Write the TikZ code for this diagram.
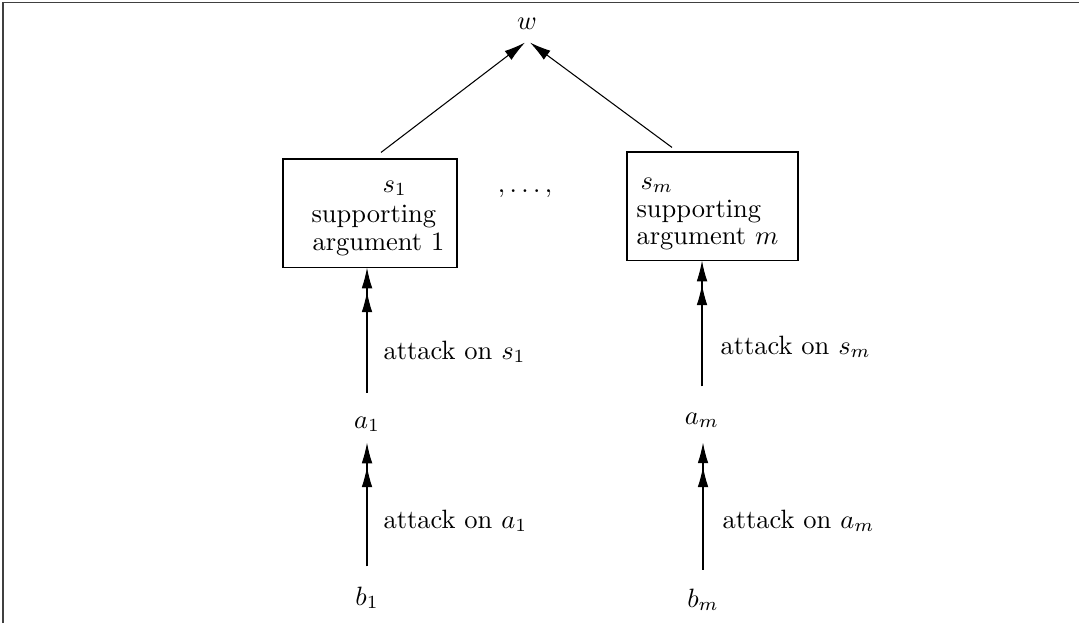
\documentclass[tikz,border=0pt]{standalone}
\usetikzlibrary{arrows.meta,calc}
\begin{document}
\begin{tikzpicture}[x=0.3775pt,y=-0.3775pt,
  txt/.style={inner sep=0pt},
  argbox/.style={draw,inner sep=0pt,minimum height=40.8pt},
  sgl/.style={-{Latex[length=8pt,width=4.2pt]}},
  dbl/.style={-{Latex[length=7.8pt,width=4pt,sep=1.2pt] Latex[length=7.8pt,width=4pt]}}]
\useasboundingbox (0,0) rectangle (1079,623);
\draw[line width=0.7pt,black!75] (3,623) -- (3,2.5) -- (1079,2.5);
% top node
\node[txt,anchor=base] (w) at (527,29) {$w$};
% boxes
\node[argbox,minimum width=65.7pt] (box1) at (370,213) {};
\node[argbox,minimum width=64.55pt] (boxm) at (712.5,206) {};
\node[txt,anchor=base west] (s1) at (382,192) {$s_1$};
\node[txt,anchor=base west] (sup1) at (311,222) {supporting};
\node[txt,anchor=base west] (arg1) at (312,250) {argument 1};
\node[txt,anchor=base west] (sm) at (640,189) {$s_m$};
\node[txt,anchor=base west] (supm) at (636,217) {supporting};
\node[txt,anchor=base west] (argm) at (636,244) {argument $m$};
\node[txt,anchor=base] (dots) at (525,192) {$,\ldots,$};
% attackers
\node[txt,anchor=base] (a1) at (367,428) {$a_1$};
\node[txt,anchor=base] (am) at (702,424) {$a_m$};
\node[txt,anchor=base] (b1) at (367,605) {$b_1$};
\node[txt,anchor=base] (bm) at (703,607) {$b_m$};
% labels
\node[txt,anchor=base west] (l1) at (383,359) {attack on $s_1$};
\node[txt,anchor=base west] (lm) at (720,354) {attack on $s_m$};
\node[txt,anchor=base west] (l2) at (383,528) {attack on $a_1$};
\node[txt,anchor=base west] (l3) at (722,528) {attack on $a_m$};
% connectors
\draw[sgl] ($(box1.north)+(11,-6)$) -- ($(w.south)+(-2,13)$);
\draw[sgl] ($(boxm.north)+(-40.5,-4)$) -- ($(w.south)+(3,13)$);
\draw[dbl,shorten <=8.9pt] (a1) -- (a1 |- box1.south);
\draw[dbl,shorten <=9.7pt] (am) -- (am |- boxm.south);
\draw[dbl,shorten <=7.4pt,shorten >=3.8pt] (b1) -- (a1);
\draw[dbl,shorten <=7pt,shorten >=5.3pt] (bm) -- (bm |- am.south);
\end{tikzpicture}
\end{document}
